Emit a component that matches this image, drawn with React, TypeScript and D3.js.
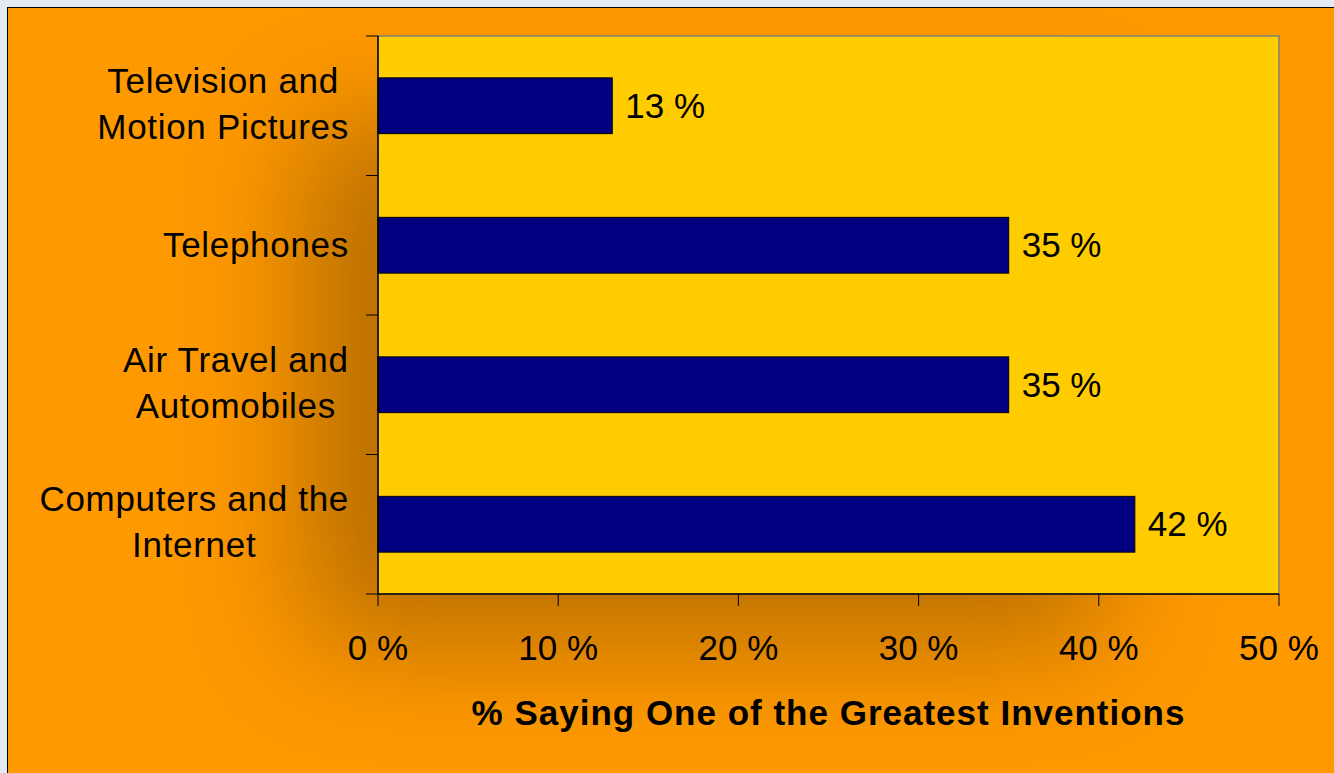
import React from "react";
import * as d3 from "d3";

const categories: string[][] = [
  ["Television and", "Motion Pictures"],
  ["Telephones"],
  ["Air Travel and", "Automobiles"],
  ["Computers and the", "Internet"],
];
const values: number[] = [13, 35, 35, 42];
const xTicks: number[] = [0, 10, 20, 30, 40, 50];
const xTitle = "% Saying One of the Greatest Inventions";

const W = 1334;
const H = 773;
const FONT = "'Liberation Sans', Arial, Helvetica, sans-serif";

function measure(text: string, size: number, ls = 0, weight = "normal"): number {
  const c = document.createElement("canvas");
  const ctx = c.getContext("2d");
  if (!ctx) return text.length * size * 0.5;
  ctx.font = `${weight} ${size}px ${FONT}`;
  return ctx.measureText(text).width + ls * text.length;
}

export default function App() {
  const plot = { x0: 378, x1: 1279, y0: 36, y1: 594 };
  const x = d3.scaleLinear().domain([0, 50]).range([plot.x0, plot.x1]);
  const y = d3
    .scaleBand<number>()
    .domain(d3.range(categories.length))
    .range([plot.y0, plot.y1])
    .paddingInner(0.6)
    .paddingOuter(0.3);
  const step = y.step();
  const boundaries = d3.range(categories.length + 1).map((i) => plot.y0 + i * step);

  React.useEffect(() => {
    document.body.style.margin = "0";
    document.body.style.background = "#E4EBF5";
  }, []);

  const labelRight = 349;
  const fs = 35;
  const catLs = 0.7;

  return (
    <svg width={W} height={H} style={{ display: "block" }} fontFamily={FONT}>
      <defs>
        <filter id="shadow" x="-60%" y="-60%" width="220%" height="220%">
          <feGaussianBlur stdDeviation="62" />
        </filter>
        <clipPath id="frame">
          <rect x={8} y={8} width={W - 8} height={H - 8} />
        </clipPath>
      </defs>
      <rect x={0} y={0} width={W} height={H} fill="#E4EBF5" />
      <rect x={7} y={7} width={W} height={H} fill="#000" />
      <rect x={8} y={8} width={W - 8} height={H - 8} fill="#FF9900" />
      <g clipPath="url(#frame)">
        <rect
          x={plot.x0 - 75}
          y={plot.y0 + 85}
          width={plot.x1 - plot.x0 - 100}
          height={plot.y1 - plot.y0 - 35}
          fill="#000"
          opacity={0.28}
          filter="url(#shadow)"
        />
      </g>
      <rect
        x={plot.x0}
        y={plot.y0}
        width={plot.x1 - plot.x0}
        height={plot.y1 - plot.y0}
        fill="#FFCC00"
        stroke="#808080"
        strokeWidth={1.5}
      />
      {values.map((v, i) => (
        <rect
          key={i}
          x={x(0)}
          y={y(i)}
          width={x(v) - x(0)}
          height={y.bandwidth()}
          fill="#000080"
          stroke="#000"
          strokeWidth={1}
        />
      ))}
      {values.map((v, i) => (
        <text
          key={"v" + i}
          x={x(v) + 13}
          y={(y(i) as number) + y.bandwidth() / 2 + 12}
          fontSize={fs}
          fill="#000"
        >
          {v} %
        </text>
      ))}
      <line x1={plot.x0} x2={plot.x0} y1={plot.y0} y2={plot.y1} stroke="#000" strokeWidth={1.5} />
      <line x1={plot.x0} x2={plot.x1} y1={plot.y1} y2={plot.y1} stroke="#000" strokeWidth={1.5} />
      {boundaries.map((b, i) => (
        <line key={"yt" + i} x1={plot.x0 - 12} x2={plot.x0} y1={b} y2={b} stroke="#000" strokeWidth={1} />
      ))}
      {xTicks.map((t) => (
        <g key={"xt" + t}>
          <line x1={x(t)} x2={x(t)} y1={plot.y1} y2={plot.y1 + 12} stroke="#000" strokeWidth={1} />
          <text x={x(t)} y={660} fontSize={fs} textAnchor="middle" fill="#000">
            {t} %
          </text>
        </g>
      ))}
      {categories.map((lines, i) => {
        const cy = (y(i) as number) + y.bandwidth() / 2;
        const maxW = Math.max(...lines.map((l) => measure(l, fs, catLs)));
        const cx = labelRight - maxW / 2;
        const baselines = lines.length === 1 ? [cy + 12] : [cy - 13, cy + 33];
        return (
          <g key={"c" + i}>
            {lines.map((l, j) => (
              <text
                key={j}
                x={cx}
                y={baselines[j]}
                fontSize={fs}
                textAnchor="middle"
                letterSpacing={catLs}
                fill="#000"
              >
                {l}
              </text>
            ))}
          </g>
        );
      })}
      <text
        x={(plot.x0 + plot.x1) / 2}
        y={725}
        fontSize={35}
        fontWeight="bold"
        textAnchor="middle"
        letterSpacing={1}
        fill="#000"
      >
        {xTitle}
      </text>
    </svg>
  );
}
